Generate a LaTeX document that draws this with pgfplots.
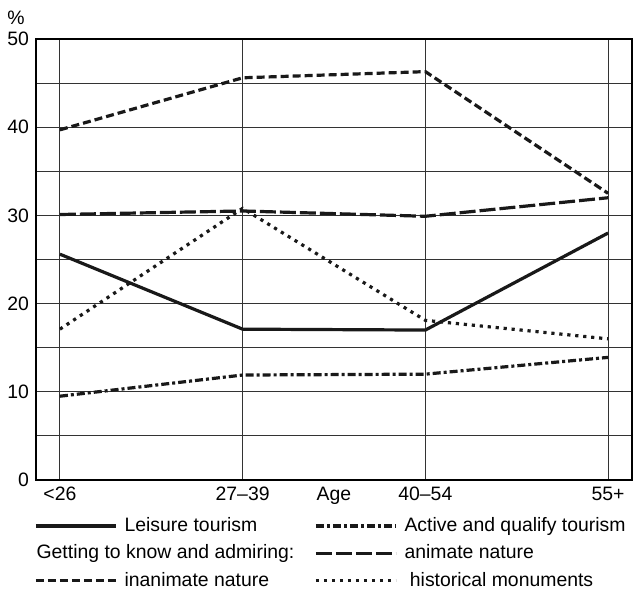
\documentclass[border=0pt]{standalone}
\usepackage{fontspec}
\setmainfont{Liberation Sans}
\usepackage{pgfplots}
\usepackage{pgfplotstable}
\pgfplotsset{compat=1.18}

% share of respondents (%) by age group
\pgfplotstableread{
x leisure active animate inanimate historical
0 25.6 9.5 30.1 39.7 17.1
1 17.1 11.9 30.5 45.6 30.8
2 17.0 12.0 29.9 46.3 18.1
3 28.0 13.9 32.0 32.5 16.0
}\agedata

\newcommand\fs{\fontsize{9.7pt}{11.6pt}\selectfont}
\tikzset{serie/.style={black!90, line width=1.6pt}}

\begin{document}
\begin{tikzpicture}
\useasboundingbox (-18pt,-56pt) rectangle (299pt,240pt);
\begin{axis}[
  at={(0,0)}, anchor=south west,
  scale only axis, width=298pt, height=220.5pt,
  xmin=-0.131, xmax=3.131, ymin=0, ymax=50,
  xtick={0,1,2,3},
  xticklabels={{<26},{27--39},{40--54},{55+}},
  ytick={0,10,...,50},
  minor ytick={5,15,...,45},
  grid=both,
  major grid style={black!80, line width=0.55pt},
  minor grid style={black!80, line width=0.55pt},
  major tick length=0pt, minor tick length=0pt,
  axis line style={black, line width=1pt},
  /pgf/number format/assume math mode=true,
  tick label style={font=\fs},
  xlabel={Age},
  every axis x label/.style={at={(axis description cs:0.5,0)}, anchor=north, font=\fs, inner sep=0.333em},
  ylabel={\%},
  every axis y label/.style={at={(axis description cs:0,1)}, anchor=south east, font=\fs, inner sep=0pt, xshift=-5.5pt, yshift=7pt},
  legend columns=2,
  legend cell align=left,
  legend image code/.code={\draw[#1] (0pt,0pt) -- (40pt,0pt);},
  legend style={at={(axis description cs:0,0)}, anchor=north west, draw=none, fill=none,
    inner sep=0pt, xshift=-1pt, yshift=-16.5pt, font=\fs, row sep=1.2pt,
    /tikz/every even column/.append style={column sep=8pt},
    /tikz/every odd column/.append style={column sep=1.5pt}},
]
\addplot[serie, solid] table[x=x, y=leisure] {\agedata};
\addlegendentry{Leisure tourism}
\addplot[serie, dash pattern=on 4pt off 1.5pt on 1.5pt off 1.5pt] table[x=x, y=active] {\agedata};
\addlegendentry{Active and qualify tourism}
\addlegendimage{empty legend}
\addlegendentry{\hspace*{-44pt}Getting to know and admiring:}
\addplot[serie, dash pattern=on 8pt off 2pt] table[x=x, y=animate] {\agedata};
\addlegendentry{animate nature}
\addplot[serie, dash pattern=on 4pt off 2pt] table[x=x, y=inanimate] {\agedata};
\addlegendentry{inanimate nature}
\addplot[serie, dash pattern=on 1.6pt off 2.4pt] table[x=x, y=historical] {\agedata};
\addlegendentry{\ historical monuments}
\end{axis}
\end{tikzpicture}
\end{document}
